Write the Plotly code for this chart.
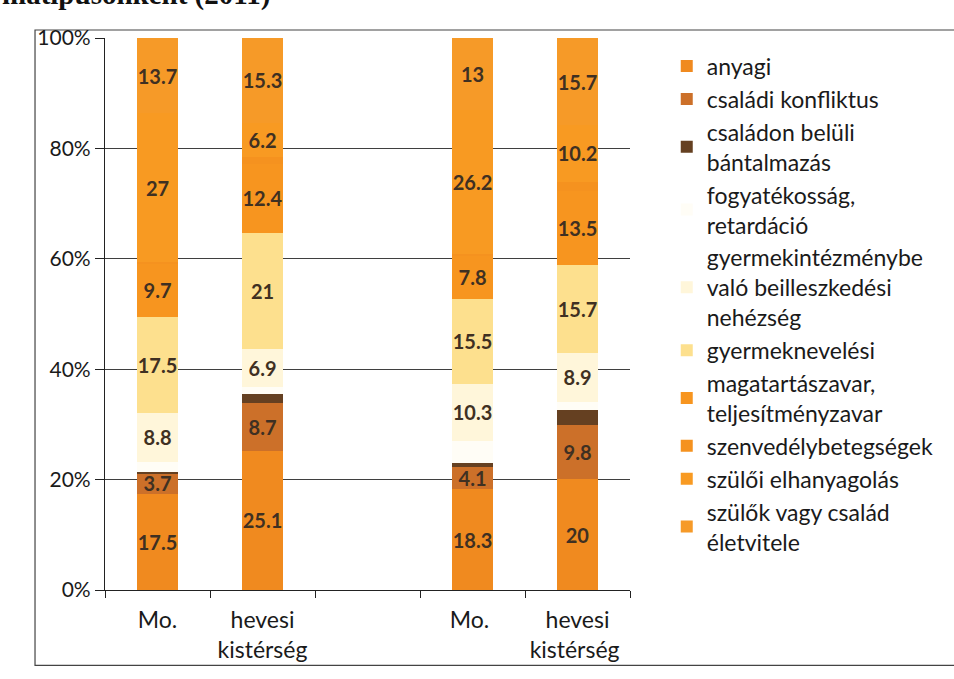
import plotly.graph_objects as go

categories = ["Mo.", "hevesi<br>kistérség", " ", "Mo. ", "hevesi<br>kistérség "]

series_names = [
    "anyagi",
    "családi konfliktus",
    "családon belüli<br>bántalmazás",
    "fogyatékosság,<br>retardáció",
    "gyermekintézménybe<br>való beilleszkedési<br>nehézség",
    "gyermeknevelési",
    "magatartászavar,<br>teljesítményzavar",
    "szenvedélybetegségek",
    "szülői elhanyagolás",
    "szülők vagy család<br>életvitele",
]

anyagi = [17.5, 25.1, None, 18.3, 20]
csaladi_konfliktus = [3.7, 8.7, None, 4.1, 9.8]
bantalmazas = [0.3, 1.5, None, 0.7, 2.6]
fogyatekossag = [1.8, 1.3, None, 4.0, 1.5]
intezmeny = [8.8, 6.9, None, 10.3, 8.9]
neveles = [17.5, 21, None, 15.5, 15.7]
magatartas = [9.7, 12.4, None, 7.8, 13.5]
szenvedely = [0.2, 1.2, None, 0.3, 1.6]
elhanyagolas = [27, 6.2, None, 26.2, 10.2]
eletvitel = [13.7, 15.3, None, 13, 15.7]

values = [anyagi, csaladi_konfliktus, bantalmazas, fogyatekossag, intezmeny,
          neveles, magatartas, szenvedely, elhanyagolas, eletvitel]
show_labels = [True, True, False, False, True, True, True, False, True, True]

colors = ["#F08A1F", "#CC7029", "#654021", "#FFFDF6", "#FFF6DA",
          "#FDE08E", "#F7951F", "#F5921F", "#F89A22", "#F69A28"]

fig = go.Figure()
for name, vals, lab, col in zip(series_names, values, show_labels, colors):
    texts = [("" if v is None else f"{v:g}") if lab else "" for v in vals]
    fig.add_trace(go.Bar(
        x=categories, y=vals, name=name,
        marker=dict(color=col, line=dict(width=0)),
        text=texts, textposition="inside", insidetextanchor="middle",
        textangle=0,
        textfont=dict(family="Lato", size=20, color="#3F3022", weight="bold"),
        legendgroup=name,
    ))

fig.update_layout(
    width=954, height=679,
    barmode="stack", barnorm="percent", bargap=0.61,
    paper_bgcolor="white", plot_bgcolor="white",
    margin=dict(l=105, r=324, t=38, b=89),
    uniformtext=dict(minsize=20, mode="show"),
    font=dict(family="Lato", size=21, color="#1A1A1A"),
    legend=dict(
        x=1.07, y=0.988, xanchor="left", yanchor="top",
        font=dict(family="Lato", size=23, color="#1A1A1A"),
        traceorder="normal", tracegroupgap=1,
        itemwidth=30, bgcolor="rgba(0,0,0,0)",
    ),
    showlegend=True,
)

fig.update_xaxes(
    type="category", categoryorder="array", categoryarray=categories,
    showline=True, linecolor="#222", linewidth=1.2,
    ticks="outside", tickson="boundaries", ticklen=7, tickcolor="#222",
    ticklabelstandoff=9,
    showgrid=False, tickfont=dict(family="Lato", size=23, color="#1A1A1A"),
)
fig.update_yaxes(
    range=[0, 100], dtick=20, ticksuffix="%",
    showline=True, linecolor="#222", linewidth=1.2,
    ticks="outside", ticklen=9, tickcolor="#222",
    showgrid=True, gridcolor="#3F3F3F", gridwidth=1.2,
    tickfont=dict(family="Lato", size=21, color="#1A1A1A"),
    zeroline=False,
)

# frame around the chart area
fig.add_shape(type="rect", xref="paper", yref="paper",
              x0=-0.1333, x1=1.63, y0=-0.1365, y1=1.0145,
              line=dict(color="#444", width=1.2), fillcolor="rgba(0,0,0,0)",
              layer="below")

fig.add_annotation(
    text="<b>matípusonként (2011)</b>", xref="paper", yref="paper",
    x=-0.2, y=1.046, xanchor="left", yanchor="bottom", showarrow=False,
    font=dict(family="Liberation Serif", size=29, color="#111"),
)

fig.write_html(
    "out.html",
    config={"displayModeBar": False},
    post_script="document.body.style.margin='0';document.body.style.overflow='hidden';",
)
